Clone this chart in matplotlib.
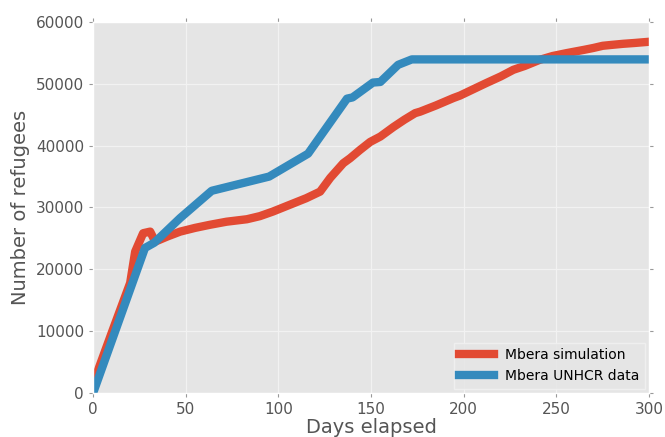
import matplotlib
matplotlib.use("Agg")
import matplotlib.pyplot as plt

# Mbera simulation (red)
sim_days = [0, 10, 20, 22.7, 27, 30.8, 33.5, 40, 47, 55, 63, 72, 83, 90, 97, 105,
            115, 122.5, 128, 135, 138.7, 144, 149.5, 155, 162, 168, 173.8, 176.5, 185,
            194.4, 198, 205, 212, 220, 226.8, 233, 241, 248, 255.6, 265, 270, 275, 280,
            286, 292, 300]
sim_vals = [1500, 9700, 17800, 22860, 25840, 26100, 24480, 25300, 26100,
            26700, 27200, 27700, 28100, 28600, 29340, 30300, 31500, 32570, 34800, 37160,
            37970, 39300, 40600, 41470, 43000, 44200, 45260, 45500, 46500, 47700, 48100,
            49100, 50100, 51200, 52270, 52900, 53880, 54500, 54970, 55500, 55800, 56150,
            56300, 56470, 56600, 56800]

# Mbera UNHCR data (blue)
data_days = [0, 28, 33, 47, 64, 95, 116, 137, 140, 151, 155, 164.6, 172, 300]
data_vals = [0, 23460, 24300, 28300, 32700, 35000, 38700, 47600, 47800, 50200, 50300,
             53070, 53950, 53950]

plt.style.use("ggplot")
plt.rcParams.update({
    "font.family": "DejaVu Sans",
    "axes.facecolor": "#E5E5E5",
    "axes.edgecolor": "white",
    "grid.color": "#F2F2F2",
    "grid.linewidth": 0.9,
    "xtick.color": "#555555",
    "ytick.color": "#555555",
    "xtick.labelsize": 11,
    "ytick.labelsize": 11,
})

fig = plt.figure(figsize=(6.65, 4.37), dpi=100)
ax = fig.add_axes([0.14, 0.1007, 0.836, 0.8490])

ax.plot(sim_days, sim_vals, color="#E24A33", lw=6, label="Mbera simulation")
ax.plot(data_days, data_vals, color="#348ABD", lw=6, label="Mbera UNHCR data")

ax.set_xlim(0, 300)
ax.set_ylim(0, 60000)
ax.set_xticks(range(0, 301, 50))
ax.set_yticks(range(0, 60001, 10000))
ax.tick_params(direction="out", length=3, color="#999999", top=True, right=True,
               labeltop=False, labelright=False)
ax.set_xlabel("Days elapsed", fontsize=14, color="#555555", labelpad=1)
ax.set_ylabel("Number of refugees", fontsize=14, color="#555555", labelpad=4)

leg = ax.legend(loc="lower right", fontsize=10, facecolor="#E5E5E5",
                edgecolor="#F2F2F2", fancybox=False, handlelength=2.5,
                borderaxespad=0.3)
leg.get_frame().set_linewidth(1.0)

fig.savefig("out.png", dpi=100)
